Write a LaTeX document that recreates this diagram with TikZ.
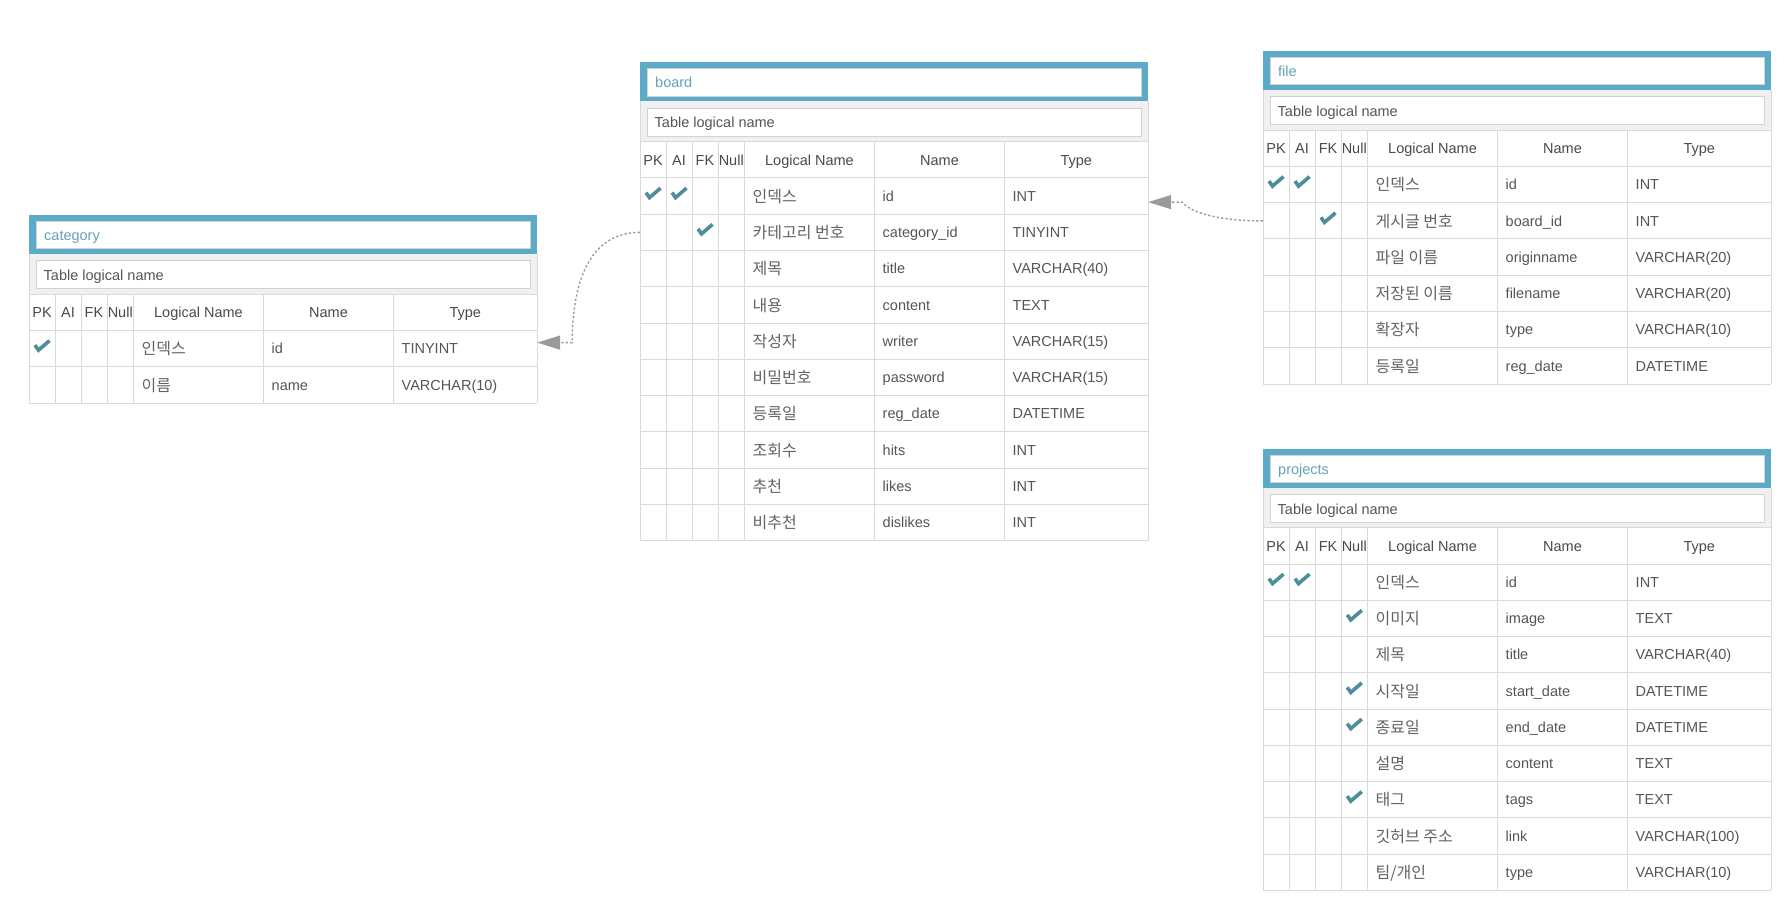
\documentclass[tikz,border=0pt]{standalone}
\usepackage{fontspec}
\setmainfont{Liberation Sans}
\newfontfamily\krfont{Noto Sans CJK KR}
\usetikzlibrary{arrows.meta}
\definecolor{bluec}{HTML}{5BABC8}
\definecolor{titlec}{HTML}{64A3B6}
\definecolor{chkc}{HTML}{4E8D9C}
\definecolor{gridc}{HTML}{DADADA}
\definecolor{bandc}{HTML}{F0F0F0}
\definecolor{boxc}{HTML}{D2D2D2}
\definecolor{txtc}{HTML}{555555}
\definecolor{hdrc}{HTML}{4A4A4A}
\definecolor{krc}{HTML}{636363}
\definecolor{linkc}{HTML}{9A9A9A}
\newcommand\uifont{\fontsize{14.5}{17}\selectfont}
\tikzset{
  gridline/.style={draw=gridc, line width=1pt},
  innerbox/.style={draw=boxc, fill=white, line width=1pt},
  titletext/.style={text=titlec, font=\uifont, anchor=base west, inner sep=0pt},
  phtext/.style={text=txtc, font=\uifont, anchor=base west, inner sep=0pt},
  hdrtext/.style={text=hdrc, font=\uifont, anchor=base, inner sep=0pt},
  valtext/.style={text=txtc, font=\uifont, anchor=base west, inner sep=0pt},
  krtext/.style={text=krc, font=\krfont\fontsize{16}{18}\selectfont, anchor=base west, inner sep=0pt},
  rowbox/.style={minimum width=508pt, minimum height=36.25pt, inner sep=0pt, draw=none},
  chkmark/.style={draw=chkc, line width=3.6pt, line join=miter, line cap=butt},
  link/.style={draw=linkc, line width=1.4pt, dash pattern=on 2.2pt off 2.2pt, -{Triangle[length=23pt,width=14pt]}},
}
\newcount\rowi
\newcommand\chkm[2]{\draw[chkmark] ({#1-7},{#2-3.5}) -- ({#1-3.5},{#2+1.5}) -- ({#1+7.5},{#2-8});}
\newcommand\errow[7]{%
  \global\advance\rowi by 1
  \edef\rn{\the\rowi}%
  \pgfmathsetmacro\ry{97.375+36.25*\rn}%
  \node[rowbox] (\tid-r\rn) at (254,\ry) {};
  \ifnum#1=1 \chkm{13}{\ry}\fi
  \ifnum#2=1 \chkm{39}{\ry}\fi
  \ifnum#3=1 \chkm{65}{\ry}\fi
  \ifnum#4=1 \chkm{91.25}{\ry}\fi
  \node[krtext] (\tid-r\rn-l) at (112.5,{\ry+6.3}) {#5};
  \node[valtext] (\tid-r\rn-n) at (242.5,{\ry+5.2}) {#6};
  \node[valtext] (\tid-r\rn-t) at (372.5,{\ry+5.2}) {#7};
}
\newcommand\ertable[6]{%
  \begin{scope}[shift={(#2,#3)}]
    \def\tid{#1}%
    \global\rowi=0
    \pgfmathsetmacro\tbot{79.25+36.25*(#5+1)}%
    \pgfmathtruncatemacro\nn{#5+1}%
    \fill[bluec] (0,0) rectangle (508,39);
    \draw[innerbox] (7,6.5) rectangle (501.5,34);
    \node[titletext] (#1-title) at (15,25.5) {#4};
    \fill[bandc] (0,39) rectangle (508,79.25);
    \draw[gridline] (0,39) -- (0,79.25) (508,39) -- (508,79.25);
    \draw[innerbox] (7,46) rectangle (501.5,74);
    \node[phtext] (#1-lname) at (14.5,65.5) {Table logical name};
    \foreach \k in {0,...,\nn} \draw[gridline] (0,{79.25+36.25*\k}) -- (508,{79.25+36.25*\k});
    \foreach \cx in {0,26,52,78,104.5,234.5,364.5,508} \draw[gridline] (\cx,79.25) -- (\cx,\tbot);
    \node[hdrtext] (#1-hpk) at (13,102.6) {PK};
    \node[hdrtext] (#1-hai) at (39,102.6) {AI};
    \node[hdrtext] (#1-hfk) at (65,102.6) {FK};
    \node[hdrtext] (#1-hnull) at (91.25,102.6) {Null};
    \node[hdrtext] (#1-hlog) at (169.5,102.6) {Logical Name};
    \node[hdrtext] (#1-hname) at (299.5,102.6) {Name};
    \node[hdrtext] (#1-htype) at (436.25,102.6) {Type};
    #6
  \end{scope}}
\begin{document}
\begin{tikzpicture}[x=1pt,y=-1pt]
\fill[white] (0,0) rectangle (1788,909);
\useasboundingbox (0,0) rectangle (1788,909);

\ertable{category}{29}{215}{category}{2}{%
  \errow{1}{0}{0}{0}{인덱스}{id}{TINYINT}
  \errow{0}{0}{0}{0}{이름}{name}{VARCHAR(10)}
}

\ertable{board}{640}{62.5}{board}{10}{%
  \errow{1}{1}{0}{0}{인덱스}{id}{INT}
  \errow{0}{0}{1}{0}{카테고리 번호}{category\_id}{TINYINT}
  \errow{0}{0}{0}{0}{제목}{title}{VARCHAR(40)}
  \errow{0}{0}{0}{0}{내용}{content}{TEXT}
  \errow{0}{0}{0}{0}{작성자}{writer}{VARCHAR(15)}
  \errow{0}{0}{0}{0}{비밀번호}{password}{VARCHAR(15)}
  \errow{0}{0}{0}{0}{등록일}{reg\_date}{DATETIME}
  \errow{0}{0}{0}{0}{조회수}{hits}{INT}
  \errow{0}{0}{0}{0}{추천}{likes}{INT}
  \errow{0}{0}{0}{0}{비추천}{dislikes}{INT}
}

\ertable{file}{1263}{51}{file}{6}{%
  \errow{1}{1}{0}{0}{인덱스}{id}{INT}
  \errow{0}{0}{1}{0}{게시글 번호}{board\_id}{INT}
  \errow{0}{0}{0}{0}{파일 이름}{originname}{VARCHAR(20)}
  \errow{0}{0}{0}{0}{저장된 이름}{filename}{VARCHAR(20)}
  \errow{0}{0}{0}{0}{확장자}{type}{VARCHAR(10)}
  \errow{0}{0}{0}{0}{등록일}{reg\_date}{DATETIME}
}

\ertable{projects}{1263}{448.5}{projects}{9}{%
  \errow{1}{1}{0}{0}{인덱스}{id}{INT}
  \errow{0}{0}{0}{1}{이미지}{image}{TEXT}
  \errow{0}{0}{0}{0}{제목}{title}{VARCHAR(40)}
  \errow{0}{0}{0}{1}{시작일}{start\_date}{DATETIME}
  \errow{0}{0}{0}{1}{종료일}{end\_date}{DATETIME}
  \errow{0}{0}{0}{0}{설명}{content}{TEXT}
  \errow{0}{0}{0}{1}{태그}{tags}{TEXT}
  \errow{0}{0}{0}{0}{깃허브 주소}{link}{VARCHAR(100)}
  \errow{0}{0}{0}{0}{팀/개인}{type}{VARCHAR(10)}
}

\coordinate (catbend) at ([xshift=35pt,yshift=6pt]category-r1.east);
\draw[link] (board-r2.west) .. controls +(-45,0) and +(0,-70) .. (catbend) -- ([yshift=6pt]category-r1.east);

\coordinate (filebend) at ([xshift=34pt,yshift=-6pt]board-r1.east);
\draw[link] (file-r2.west) .. controls +(-40,0) and +(10,12) .. (filebend) -- ([yshift=-6pt]board-r1.east);
\end{tikzpicture}
\end{document}
